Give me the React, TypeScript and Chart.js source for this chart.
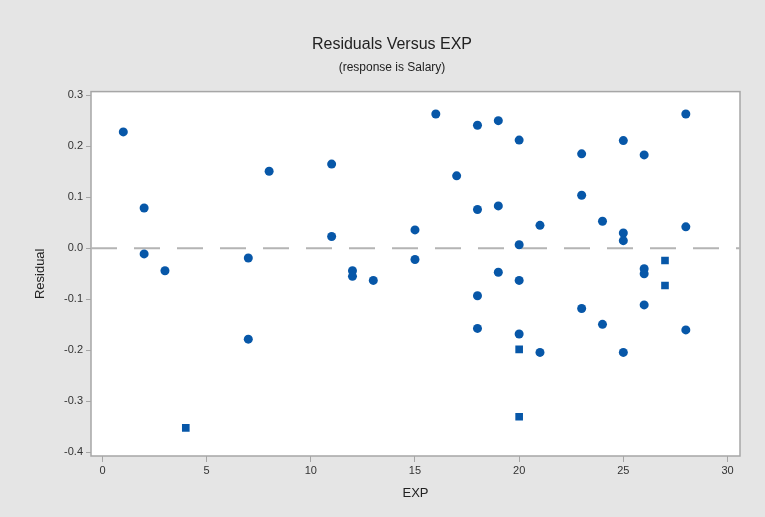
import React, { useEffect, useRef } from "react";
import { Chart, registerables } from "chart.js";

Chart.register(...registerables);

const titleText = "Residuals Versus EXP";
const subtitleText = "(response is Salary)";
const xTitle = "EXP";
const yTitle = "Residual";

const xTicks = [0, 5, 10, 15, 20, 25, 30];
const yTicks = [0.3, 0.2, 0.1, 0.0, -0.1, -0.2, -0.3, -0.4];

const circleExp = [1, 2, 2, 3, 7, 7, 8, 11, 11, 12, 12, 13, 15, 15, 16, 17, 18, 18, 18, 18, 19, 19, 19, 20, 20, 20, 20, 21, 21, 23, 23, 23, 24, 24, 25, 25, 25, 25, 26, 26, 26, 26, 28, 28, 28];
const circleResid = [0.228, 0.079, -0.011, -0.044, -0.019, -0.178, 0.151, 0.165, 0.023, -0.044, -0.055, -0.063, 0.036, -0.022, 0.263, 0.142, 0.241, 0.076, -0.093, -0.157, 0.25, 0.083, -0.047, 0.212, 0.007, -0.063, -0.168, 0.045, -0.204, 0.185, 0.104, -0.118, 0.053, -0.149, 0.211, 0.03, 0.015, -0.204, 0.183, -0.04, -0.05, -0.111, 0.263, 0.042, -0.16];

const squareExp = [4, 20, 20, 27, 27];
const squareResid = [-0.352, -0.198, -0.33, -0.024, -0.073];

const refLineX = [-0.55, 30.6];
const refLineY = [0, 0];

const BLUE = "#0757A8";

const bgPlugin = {
  id: "bgPlugin",
  beforeDraw(chart: any) {
    const { ctx, chartArea, width, height } = chart;
    ctx.save();
    ctx.fillStyle = "#E5E5E5";
    ctx.fillRect(0, 0, width, height);
    ctx.fillStyle = "#FFFFFF";
    ctx.fillRect(chartArea.left, chartArea.top, chartArea.right - chartArea.left, chartArea.bottom - chartArea.top);
    ctx.restore();
  },
  beforeDatasetsDraw(chart: any) {
    const { ctx, chartArea } = chart;
    ctx.save();
    ctx.strokeStyle = "#A6A6A6";
    ctx.lineWidth = 1.5;
    ctx.strokeRect(chartArea.left, chartArea.top, chartArea.right - chartArea.left, chartArea.bottom - chartArea.top);
    ctx.restore();
  },
};

export default function App() {
  const ref = useRef<HTMLCanvasElement | null>(null);
  useEffect(() => {
    document.body.style.margin = "0";
    const canvas = ref.current;
    if (!canvas) return;
    const chart = new Chart(canvas, {
      type: "scatter",
      data: {
        datasets: [
          {
            type: "line",
            data: refLineX.map((x, i) => ({ x, y: refLineY[i] })),
            borderColor: "#B4B4B4",
            borderWidth: 2,
            borderDash: [26, 17],
            pointRadius: 0,
            order: 3,
          } as any,
          {
            data: circleExp.map((x, i) => ({ x, y: circleResid[i] })),
            backgroundColor: BLUE,
            borderColor: BLUE,
            pointStyle: "circle",
            pointRadius: 4.5,
            borderWidth: 0,
            order: 1,
          },
          {
            data: squareExp.map((x, i) => ({ x, y: squareResid[i] })),
            backgroundColor: BLUE,
            borderColor: BLUE,
            pointStyle: "rect",
            pointRadius: 5.4,
            borderWidth: 0,
            order: 1,
          },
        ],
      },
      options: {
        responsive: false,
        animation: false,
        layout: { padding: { left: 19, right: 0, top: 0, bottom: 0 } },
        plugins: {
          legend: { display: false },
          tooltip: { enabled: false },
          title: {
            display: true,
            text: titleText,
            color: "#222222",
            font: { family: "'Liberation Sans', Arial, sans-serif", size: 16, weight: "normal" },
            padding: { top: 35, bottom: 3 },
          },
          subtitle: {
            display: true,
            text: subtitleText,
            color: "#222222",
            font: { family: "'Liberation Sans', Arial, sans-serif", size: 12, weight: "normal" },
            padding: { top: 3, bottom: 17 },
          },
        },
        scales: {
          x: {
            type: "linear",
            min: refLineX[0],
            max: refLineX[1],
            afterBuildTicks: (scale: any) => {
              scale.ticks = xTicks.map((v) => ({ value: v }));
            },
            afterFit: (scale: any) => {
              scale.height = 61;
            },
            grid: { display: true, drawOnChartArea: false, tickLength: 6, color: "#A6A6A6", tickColor: "#A6A6A6" },
            border: { display: false },
            ticks: {
              color: "#333333",
              padding: 2,
              font: { family: "'Liberation Sans', Arial, sans-serif", size: 11 },
              callback: (v: any) => String(v),
            },
            title: {
              display: true,
              text: xTitle,
              color: "#222222",
              font: { family: "'Liberation Sans', Arial, sans-serif", size: 13 },
              padding: { top: 6, bottom: 16 },
            },
          },
          y: {
            type: "linear",
            min: -0.407,
            max: 0.307,
            afterBuildTicks: (scale: any) => {
              scale.ticks = yTicks.map((v) => ({ value: v }));
            },
            afterFit: (scale: any) => {
              scale.width = 72;
            },
            grid: { display: true, drawOnChartArea: false, tickLength: 5, color: "#A6A6A6", tickColor: "#A6A6A6" },
            border: { display: false },
            ticks: {
              color: "#333333",
              padding: 3,
              font: { family: "'Liberation Sans', Arial, sans-serif", size: 11 },
              callback: (v: any) => Number(v).toFixed(1),
            },
            title: {
              display: true,
              text: yTitle,
              color: "#222222",
              font: { family: "'Liberation Sans', Arial, sans-serif", size: 13 },
              padding: { top: 14, bottom: 4 },
            },
          },
          y2: {
            type: "linear",
            position: "right",
            display: true,
            afterFit: (scale: any) => {
              scale.width = 25;
            },
            grid: { display: false },
            border: { display: false },
            ticks: { display: false },
          },
        },
      } as any,
      plugins: [bgPlugin],
    });
    return () => chart.destroy();
  }, []);
  return (
    <div style={{ width: 765, height: 517 }}>
      <canvas ref={ref} width={765} height={517} style={{ display: "block" }} />
    </div>
  );
}
